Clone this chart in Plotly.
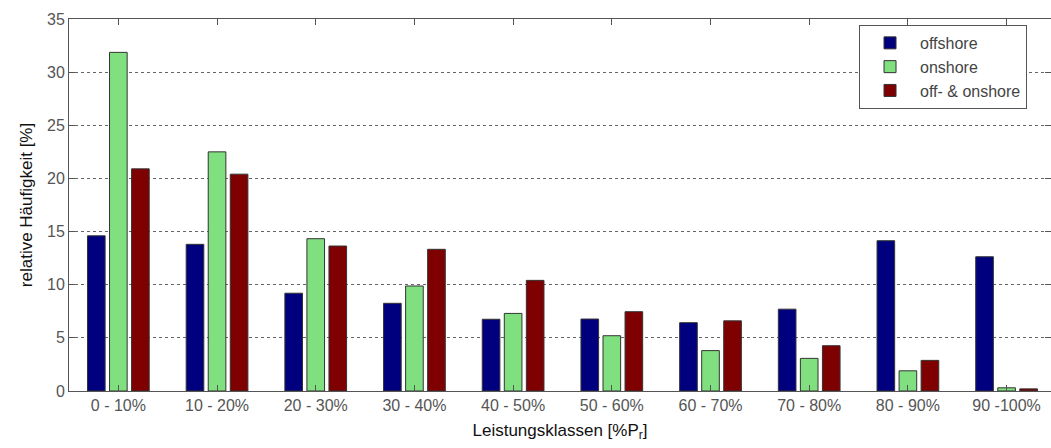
import plotly.graph_objects as go

categories = ["0 - 10%", "10 - 20%", "20 - 30%", "30 - 40%", "40 - 50%",
              "50 - 60%", "60 - 70%", "70 - 80%", "80 - 90%", "90 -100%"]
offshore = [14.6, 13.8, 9.2, 8.25, 6.75, 6.77, 6.43, 7.7, 14.14, 12.63]
onshore = [31.86, 22.5, 14.33, 9.88, 7.3, 5.2, 3.8, 3.07, 1.9, 0.3]
off_on = [20.9, 20.4, 13.64, 13.33, 10.41, 7.46, 6.6, 4.26, 2.88, 0.2]

series = [("offshore", offshore, "#00007F"),
          ("onshore", onshore, "#80E07F"),
          ("off- & onshore", off_on, "#7F0000")]

fig = go.Figure()
for name, vals, col in series:
    fig.add_trace(go.Bar(x=categories, y=vals, name=name,
                         marker=dict(color=col, line=dict(color="#333333", width=1))))

font = "Liberation Sans, Arial, sans-serif"
fig.update_layout(
    width=1051, height=448,
    margin=dict(l=69, r=0, t=19, b=57),
    paper_bgcolor="white", plot_bgcolor="white",
    barmode="group", bargap=0.33, bargroupgap=0.2,
    font=dict(family=font, size=16, color="#444444"),
    legend=dict(x=0.8045, y=0.984, xanchor="left", yanchor="top",
                bordercolor="#555555", borderwidth=1, bgcolor="white",
                font=dict(size=16, color="#444444"), tracegroupgap=0,
                itemwidth=50),
    showlegend=True,
)
fig.update_xaxes(
    type="category", range=[-0.5, 9.45],
    showline=True, linecolor="#555555", linewidth=1, mirror="ticks",
    ticks="inside", ticklen=6, tickcolor="#555555",
    showgrid=False,
    tickfont=dict(size=16, color="#555555"),
    title=dict(text="Leistungsklassen [%P<sub>r</sub>]", standoff=10,
               font=dict(size=17, color="#111111")),
)
fig.update_yaxes(
    range=[0, 35], dtick=5,
    showline=True, linecolor="#555555", linewidth=1, mirror="ticks",
    ticks="inside", ticklen=6, tickcolor="#555555",
    showgrid=True, gridcolor="#666666", griddash="dot", gridwidth=1,
    zeroline=False,
    tickfont=dict(size=16, color="#555555"),
    title=dict(text="relative Häufigkeit [%]", standoff=10,
               font=dict(size=17, color="#111111")),
)

fig.write_html("out.html", config={"displayModeBar": False},
               post_script="document.body.style.margin='0';")
